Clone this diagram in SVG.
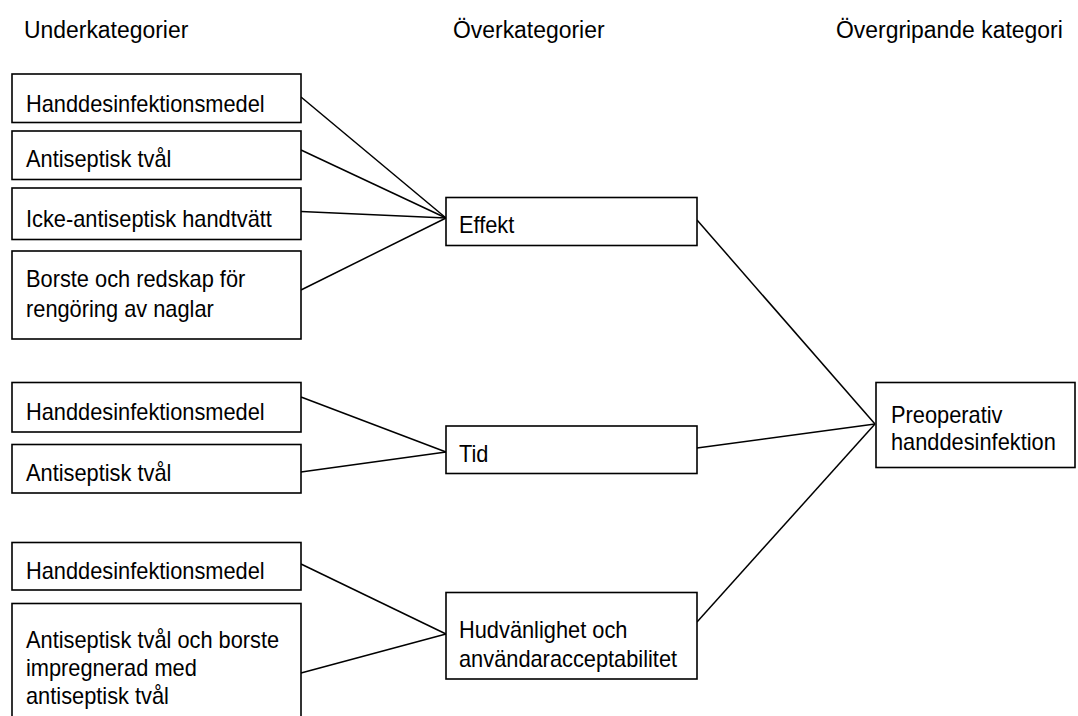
<svg xmlns="http://www.w3.org/2000/svg" width="1078" height="716" viewBox="0 0 1078 716">
<style>
  .box { fill: #ffffff; stroke: #000000; stroke-width: 1.6; }
  .t { font-family: "Liberation Sans", Arial, sans-serif; font-size: 23.2px; fill: #000000; }
  .h { font-family: "Liberation Sans", Arial, sans-serif; font-size: 24.4px; fill: #000000; }
  .c { stroke: #000000; stroke-width: 1.5; fill: none; }
</style>
<rect x="0" y="0" width="1078" height="716" fill="#ffffff"/>
<g id="headers">
  <text class="h" transform="translate(24,38) scale(0.94,1)">Underkategorier</text>
  <text class="h" transform="translate(453,38) scale(0.94,1)">Överkategorier</text>
  <text class="h" transform="translate(836,38) scale(0.94,1)">Övergripande kategori</text>
</g>
<g id="connectors">
  <line class="c" x1="301" y1="97" x2="446" y2="218"/>
  <line class="c" x1="301" y1="150" x2="446" y2="218"/>
  <line class="c" x1="301" y1="211.5" x2="446" y2="218"/>
  <line class="c" x1="301" y1="290" x2="446" y2="218"/>
  <line class="c" x1="301" y1="397" x2="446" y2="452"/>
  <line class="c" x1="301" y1="472" x2="446" y2="452"/>
  <line class="c" x1="301" y1="564" x2="446" y2="634"/>
  <line class="c" x1="301" y1="673" x2="446" y2="634"/>
  <line class="c" x1="697" y1="220" x2="875" y2="424"/>
  <line class="c" x1="697" y1="448" x2="875" y2="424"/>
  <line class="c" x1="697" y1="622" x2="875" y2="424"/>
</g>
<g id="sub1">
  <rect class="box" x="12" y="74" width="289" height="48.5"/>
  <text class="t" transform="translate(26,111.5) scale(0.94,1)">Handdesinfektionsmedel</text>
</g>
<g id="sub2">
  <rect class="box" x="12" y="131" width="289" height="48.5"/>
  <text class="t" transform="translate(26,167) scale(0.94,1)">Antiseptisk tvål</text>
</g>
<g id="sub3">
  <rect class="box" x="12" y="188" width="289" height="51.5"/>
  <text class="t" transform="translate(26,226.5) scale(0.94,1)">Icke-antiseptisk handtvätt</text>
</g>
<g id="sub4">
  <rect class="box" x="12" y="251" width="289" height="88"/>
  <text class="t" transform="translate(26,287) scale(0.94,1)">Borste och redskap för</text>
  <text class="t" transform="translate(26,317) scale(0.94,1)">rengöring av naglar</text>
</g>
<g id="sub5">
  <rect class="box" x="12" y="382.5" width="289" height="49.5"/>
  <text class="t" transform="translate(26,419.5) scale(0.94,1)">Handdesinfektionsmedel</text>
</g>
<g id="sub6">
  <rect class="box" x="12" y="444.5" width="289" height="48.5"/>
  <text class="t" transform="translate(26,481) scale(0.94,1)">Antiseptisk tvål</text>
</g>
<g id="sub7">
  <rect class="box" x="12" y="542.5" width="289" height="47.5"/>
  <text class="t" transform="translate(26,579) scale(0.94,1)">Handdesinfektionsmedel</text>
</g>
<g id="sub8">
  <rect class="box" x="12" y="603.5" width="289" height="130"/>
  <text class="t" transform="translate(26,648) scale(0.94,1)">Antiseptisk tvål och borste</text>
  <text class="t" transform="translate(26,676) scale(0.94,1)">impregnerad med</text>
  <text class="t" transform="translate(26,704) scale(0.94,1)">antiseptisk tvål</text>
</g>
<g id="effekt">
  <rect class="box" x="446" y="197.5" width="251" height="48"/>
  <text class="t" transform="translate(459,233) scale(0.94,1)">Effekt</text>
</g>
<g id="tid">
  <rect class="box" x="446" y="426" width="251" height="47.5"/>
  <text class="t" transform="translate(459,461.5) scale(0.94,1)">Tid</text>
</g>
<g id="hud">
  <rect class="box" x="446" y="592.5" width="251" height="86.5"/>
  <text class="t" transform="translate(459,638) scale(0.94,1)">Hudvänlighet och</text>
  <text class="t" transform="translate(459,667) scale(0.94,1)">användaracceptabilitet</text>
</g>
<g id="preop">
  <rect class="box" x="876" y="382.5" width="199" height="85"/>
  <text class="t" transform="translate(891,423) scale(0.94,1)">Preoperativ</text>
  <text class="t" transform="translate(891,450) scale(0.94,1)">handdesinfektion</text>
</g>
</svg>
